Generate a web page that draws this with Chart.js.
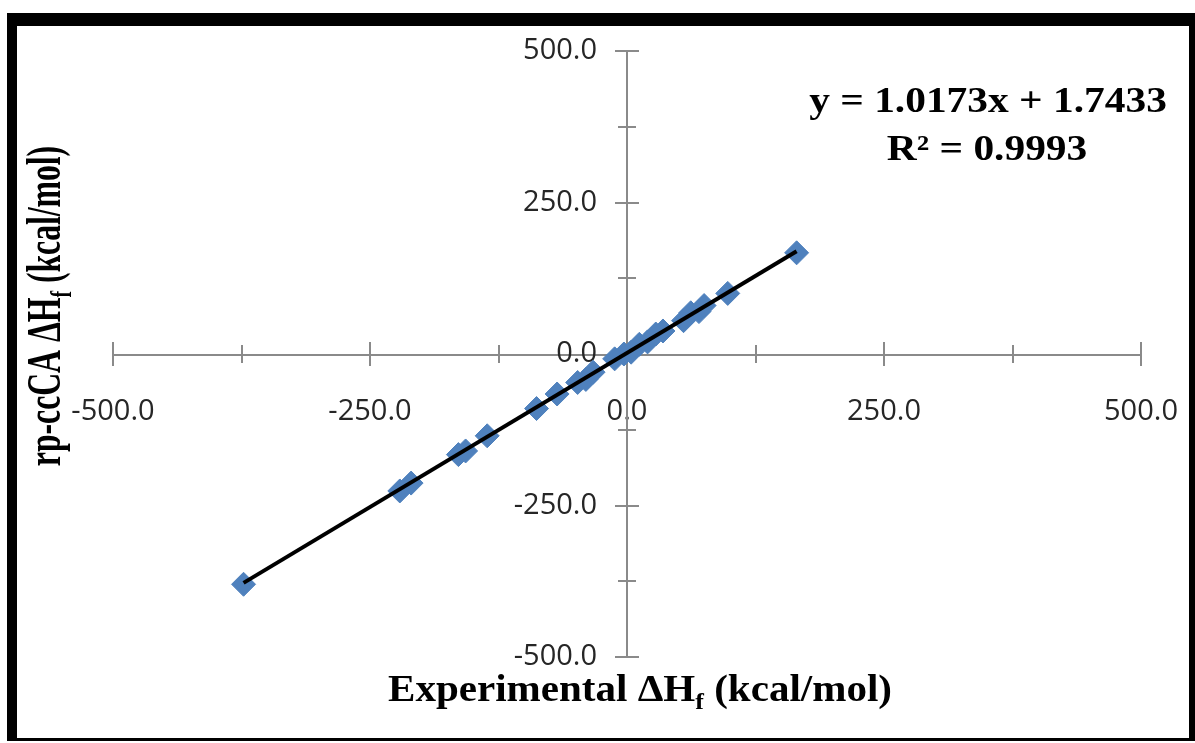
<!DOCTYPE html>
<html>
<head>
<meta charset="utf-8">
<script src="https://cdn.jsdelivr.net/npm/chart.js@4.4.0/dist/chart.umd.min.js"></script>
<style>
  html, body { margin: 0; padding: 0; background: #fff; }
  #wrap { position: relative; width: 1195px; height: 743px; }
  #frame {
    position: absolute; left: 7px; top: 13px; width: 1188px; height: 728px;
    box-sizing: border-box; border-style: solid; border-color: #000;
    border-width: 13px 6px 3px 10px; pointer-events: none;
  }
</style>
</head>
<body>
<div id="wrap">
  <canvas id="chart" width="1195" height="743"></canvas>
  <div id="frame"></div>
</div>
<script>
// experimental vs computed heats of formation (kcal/mol)
const expX  = [-373, -221, -210, -164, -157, -136, -88, -68, -48, -40, -33, -12, -3, 4, 12, 20, 28, 35, 55, 62, 70, 75, 98, 165];
const calcY = [-380, -226, -213, -166, -160, -135, -90, -66, -47, -42, -30, -8, 0, 3, 16, 20, 33, 38, 55, 68, 70, 80, 100, 167];

// Excel linear trendline
const fitSlope = 1.0173;
const fitIntercept = 1.7433;
const rSquared = 0.9993;

const axisMin = -500;
const axisMax = 500;
const majorStep = 250;
const minorStep = 125;

const points = expX.map((x, i) => ({ x: x, y: calcY[i] }));
const xLo = Math.min(...expX);
const xHi = Math.max(...expX);
const trend = [
    { x: xLo, y: fitSlope * xLo + fitIntercept },
    { x: xHi, y: fitSlope * xHi + fitIntercept }
];

const axisColor = "#8a8a8a";
const labelFont = { family: "'Open Sans', 'Noto Sans', sans-serif", size: 29 };

function tickLabel(value) {
    return value % majorStep === 0 ? value.toFixed(1) : "";
}

// ticks that cross the axis line, like Excel's "cross" tick marks
const crossTicks = {
    id: "crossTicks",
    beforeDatasetsDraw(chart) {
        const { ctx, scales: { x, y } } = chart;
        const x0 = x.getPixelForValue(0);
        const y0 = y.getPixelForValue(0);
        ctx.save();
        ctx.strokeStyle = axisColor;
        ctx.lineWidth = 2;
        x.ticks.forEach(t => {
            if (t.value === 0) return;
            const px = Math.round(x.getPixelForValue(t.value));
            const len = t.value % majorStep === 0 ? 12 : 9;
            ctx.beginPath();
            ctx.moveTo(px, y0 - len);
            ctx.lineTo(px, y0 + len);
            ctx.stroke();
        });
        y.ticks.forEach(t => {
            if (t.value === 0) return;
            const py = Math.round(y.getPixelForValue(t.value));
            const len = t.value % majorStep === 0 ? 12 : 9;
            ctx.beginPath();
            ctx.moveTo(x0 - len, py);
            ctx.lineTo(x0 + len, py);
            ctx.stroke();
        });
        ctx.restore();
    }
};

// centred text with an optional subscript part, stretched along the text by sx
function drawParts(ctx, parts, cx, cy, size, sx) {
    const big = "bold " + size + "px 'Liberation Serif', 'Times New Roman', serif";
    const small = "bold " + Math.round(size * 0.62) + "px 'Liberation Serif', 'Times New Roman', serif";
    let total = 0;
    parts.forEach(p => {
        ctx.font = p.sub ? small : big;
        total += ctx.measureText(p.text).width;
    });
    ctx.save();
    ctx.translate(cx, cy);
    ctx.scale(sx || 1, 1);
    let px = -total / 2;
    ctx.textAlign = "left";
    ctx.textBaseline = "alphabetic";
    parts.forEach(p => {
        ctx.font = p.sub ? small : big;
        ctx.fillText(p.text, px, p.sub ? size * 0.22 : 0);
        px += ctx.measureText(p.text).width;
    });
    ctx.restore();
}

const titles = {
    id: "titles",
    afterDraw(chart) {
        const ctx = chart.ctx;
        ctx.save();
        ctx.fillStyle = "#000";
        drawParts(ctx, [
            { text: "Experimental \u0394H" }, { text: "f", sub: true }, { text: " (kcal/mol)" }
        ], 640, 701, 38, 1.08);

        ctx.save();
        ctx.translate(60, 306);
        ctx.rotate(-Math.PI / 2);
        drawParts(ctx, [
            { text: "rp-ccCA \u0394H" }, { text: "f", sub: true }, { text: " (kcal/mol)" }
        ], 0, 0, 48, 0.66);
        ctx.restore();

        drawParts(ctx, [{ text: "y = " + fitSlope + "x + " + fitIntercept }], 988, 112, 36, 1.15);
        drawParts(ctx, [{ text: "R\u00b2 = " + rSquared }], 987, 160, 36, 1.15);
        ctx.restore();
    }
};

new Chart(document.getElementById("chart"), {
    type: "scatter",
    data: {
        datasets: [
            {
                label: "rp-ccCA",
                data: points,
                pointStyle: "rectRot",
                pointRadius: 12,
                pointBackgroundColor: "#4f81bd",
                pointBorderColor: "#4f81bd",
                pointBorderWidth: 1,
                order: 2
            },
            {
                type: "line",
                label: "Linear",
                data: trend,
                borderColor: "#000",
                borderWidth: 4,
                pointRadius: 0,
                fill: false,
                order: 1
            }
        ]
    },
    plugins: [crossTicks, titles],
    options: {
        responsive: false,
        animation: false,
        devicePixelRatio: 1,
        layout: { padding: { left: 113, right: 54, top: 51, bottom: 86 } },
        plugins: {
            legend: { display: false },
            tooltip: { enabled: false }
        },
        scales: {
            x: {
                type: "linear",
                position: "center",
                min: axisMin,
                max: axisMax,
                afterFit(scale) {
                    scale.height = 0;
                    scale.paddingLeft = 0;
                    scale.paddingRight = 0;
                },
                grid: { display: false, drawTicks: false },
                border: { display: true, color: axisColor, width: 2 },
                ticks: {
                    stepSize: minorStep,
                    autoSkip: false,
                    maxRotation: 0,
                    padding: 40,
                    color: "#262626",
                    font: labelFont,
                    callback: tickLabel
                }
            },
            y: {
                type: "linear",
                position: "center",
                min: axisMin,
                max: axisMax,
                afterFit(scale) {
                    scale.width = 0;
                    scale.paddingTop = 0;
                    scale.paddingBottom = 0;
                },
                grid: { display: false, drawTicks: false },
                border: { display: true, color: axisColor, width: 2 },
                ticks: {
                    stepSize: minorStep,
                    autoSkip: false,
                    padding: 30,
                    color: "#262626",
                    font: labelFont,
                    callback: tickLabel
                }
            }
        }
    }
});
</script>
</body>
</html>
